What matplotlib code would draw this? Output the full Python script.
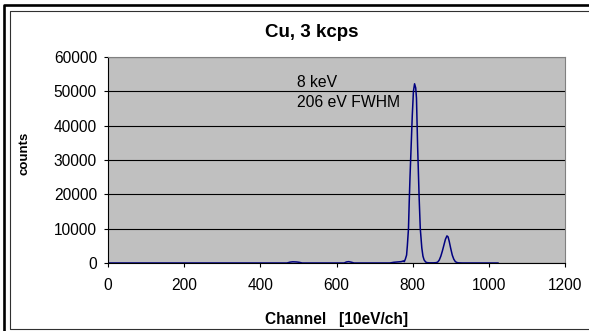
import numpy as np
import matplotlib
matplotlib.use("Agg")
import matplotlib.pyplot as plt
from matplotlib.lines import Line2D

plt.rcParams["font.family"] = ["Liberation Sans", "DejaVu Sans"]

# Spectrum (channel, counts)
channel = [0, 470, 478, 485, 495, 502, 510,
           620, 626, 632, 640, 646,
           740, 750, 760, 770, 776, 778, 781, 784, 786, 789, 791, 793, 796, 799,
           802, 805, 808, 810, 813, 817, 820, 824, 827, 830, 834, 838,
           845, 855, 862, 866, 870, 874, 878, 882, 886, 890, 893, 896,
           900, 904, 908, 912, 916, 920, 930, 1024]
counts = [0, 0, 250, 350, 300, 200, 0,
          0, 300, 400, 200, 0,
          0, 200, 300, 400, 600, 400, 1200, 2300, 5000, 10000, 18000, 25000, 34000, 43000,
          50000, 52200, 51000, 48000, 34000, 19000, 10000, 4400, 2000, 900, 300, 100,
          50, 50, 100, 300, 900, 2000, 3500, 5200, 6900, 7900, 7600, 6300,
          4200, 2300, 1100, 400, 150, 50, 0, 0]

x_ticks = [0, 200, 400, 600, 800, 1000, 1200]
y_ticks = [0, 10000, 20000, 30000, 40000, 50000, 60000]

W, H = 589, 331
fig = plt.figure(figsize=(W / 100, H / 100), dpi=100)


def frame_line(xs, ys, **kw):
    # xs, ys in pixels from the top-left corner
    fig.add_artist(Line2D([x / W for x in xs], [1 - y / H for y in ys],
                          transform=fig.transFigure, **kw))


# chart area frames (cut off on the right like the original)
frame_line([4, 4, W + 20], [H + 20, 5, 5], color="black", lw=1.9)
frame_line([W + 20, 10, 10, W + 20], [11, 11, 329, 329], color="#303030", lw=0.8)

ax = fig.add_axes([108 / W, 1 - 263 / H, 457 / W, 206 / H])
ax.set_facecolor("#C0C0C0")
ax.plot(channel, counts, color="#000080", lw=1.1)

ax.set_xlim(0, 1200)
ax.set_ylim(0, 60000)
ax.set_xticks(x_ticks)
ax.set_yticks(y_ticks)
ax.yaxis.grid(True, color="black", lw=0.8)
ax.set_axisbelow(True)
ax.tick_params(labelsize=11.2, length=3, width=0.8, direction="out")
ax.tick_params(axis="x", pad=8)
ax.tick_params(axis="y", pad=5)
for side in ["top", "right"]:
    ax.spines[side].set_color("#808080")
for side in ["left", "bottom"]:
    ax.spines[side].set_color("black")
    ax.spines[side].set_linewidth(0.8)

ax.text(497, 51350, "8 keV", fontsize=11.3, va="baseline")
ax.text(497, 45350, "206 eV FWHM", fontsize=11.3, va="baseline")

fig.text(312 / W, 1 - 37 / H, "Cu, 3 kcps", ha="center", va="baseline",
         fontsize=13.5, fontweight="bold")
fig.text(337 / W, 1 - 324 / H, "Channel   [10eV/ch]", ha="center", va="baseline",
         fontsize=11.2, fontweight="bold")
fig.text(24 / W, 1 - 153.5 / H, "counts", rotation=90, ha="center", va="center",
         fontsize=9.5, fontweight="bold")

fig.savefig("out.png", dpi=100)
